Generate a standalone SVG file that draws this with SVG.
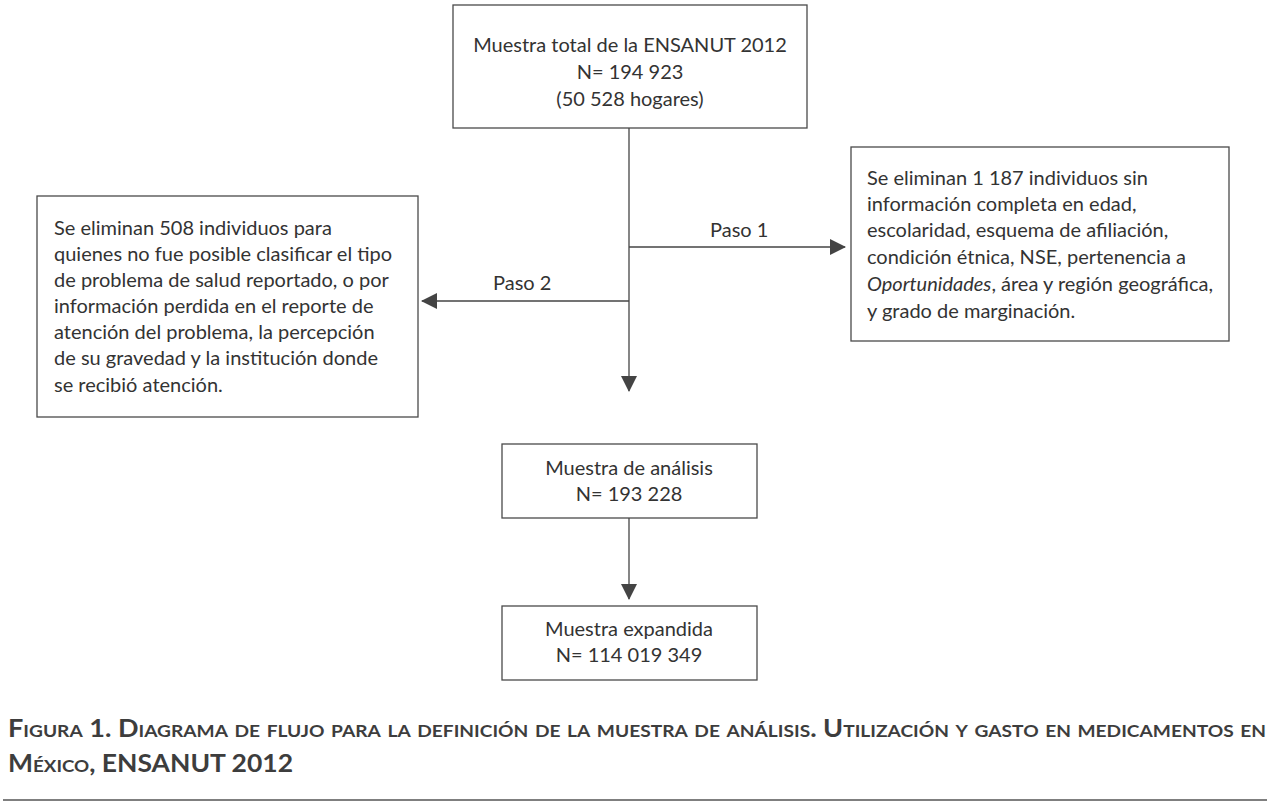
<svg xmlns="http://www.w3.org/2000/svg" width="1270" height="804" viewBox="0 0 1270 804">
<style>
.box{fill:#fff;stroke:#4a4a4a;stroke-width:1.3}
.t{font-family:Lato,"Open Sans","DejaVu Sans",sans-serif;font-size:20px;fill:#333}
.c{text-anchor:middle}
.ln{stroke:#444;stroke-width:1.3;fill:none}
.cap{font-family:Lato,"Open Sans","DejaVu Sans",sans-serif;font-weight:bold;font-variant:small-caps;font-size:24px;fill:#3d3d3d}
</style>
<defs>
<marker id="ah" viewBox="0 0 16 16" refX="15" refY="8" markerWidth="16" markerHeight="16" markerUnits="userSpaceOnUse" orient="auto">
<path d="M0,0 L16,8 L0,16 Z" fill="#444"/>
</marker>
</defs>
<rect width="1270" height="804" fill="#fff"/>
<g id="connectors">
<line class="ln" x1="629" y1="128" x2="629" y2="391" marker-end="url(#ah)"/>
<line class="ln" x1="629" y1="247" x2="845" y2="247" marker-end="url(#ah)"/>
<line class="ln" x1="629" y1="301" x2="422" y2="301" marker-end="url(#ah)"/>
<line class="ln" x1="629" y1="518" x2="629" y2="599" marker-end="url(#ah)"/>
<text class="t" x="710" y="237">Paso 1</text>
<text class="t" x="493" y="290">Paso 2</text>
</g>
<g id="n1">
<rect class="box" x="453" y="5" width="354" height="123"/>
<text class="t c" x="630" y="52">Muestra total de la ENSANUT 2012</text>
<text class="t c" x="630" y="79">N= 194 923</text>
<text class="t c" x="630" y="106">(50 528 hogares)</text>
</g>
<g id="n2">
<rect class="box" x="851" y="147" width="378" height="194"/>
<text class="t" x="867" y="185">Se eliminan 1 187 individuos sin</text>
<text class="t" x="867" y="211">información completa en edad,</text>
<text class="t" x="867" y="237">escolaridad, esquema de afiliación,</text>
<text class="t" x="867" y="264">condición étnica, NSE, pertenencia a</text>
<text class="t" x="867" y="291"><tspan font-style="italic">Oportunidades</tspan>, área y región geográfica,</text>
<text class="t" x="867" y="318">y grado de marginación.</text>
</g>
<g id="n3">
<rect class="box" x="37" y="196" width="381" height="221"/>
<text class="t" x="54" y="235">Se eliminan 508 individuos para</text>
<text class="t" x="54" y="261">quienes no fue posible clasificar el tipo</text>
<text class="t" x="54" y="287">de problema de salud reportado, o por</text>
<text class="t" x="54" y="313">información perdida en el reporte de</text>
<text class="t" x="54" y="339">atención del problema, la percepción</text>
<text class="t" x="54" y="365">de su gravedad y la institución donde</text>
<text class="t" x="54" y="392">se recibió atención.</text>
</g>
<g id="n4">
<rect class="box" x="502" y="444" width="255" height="74"/>
<text class="t c" x="629" y="475">Muestra de análisis</text>
<text class="t c" x="629" y="501">N= 193 228</text>
</g>
<g id="n5">
<rect class="box" x="502" y="606" width="255" height="74"/>
<text class="t c" x="629" y="636">Muestra expandida</text>
<text class="t c" x="629" y="662">N= 114 019 349</text>
</g>
<g id="caption">
<text class="cap" x="8" y="737" textLength="1258" lengthAdjust="spacingAndGlyphs">Figura 1. Diagrama de flujo para la definición de la muestra de análisis. Utilización y gasto en medicamentos en</text>
<text class="cap" x="8" y="772" textLength="285" lengthAdjust="spacingAndGlyphs">México, ENSANUT 2012</text>
<line x1="3" y1="800" x2="1267" y2="800" stroke="#555" stroke-width="1.3"/>
</g>
</svg>
